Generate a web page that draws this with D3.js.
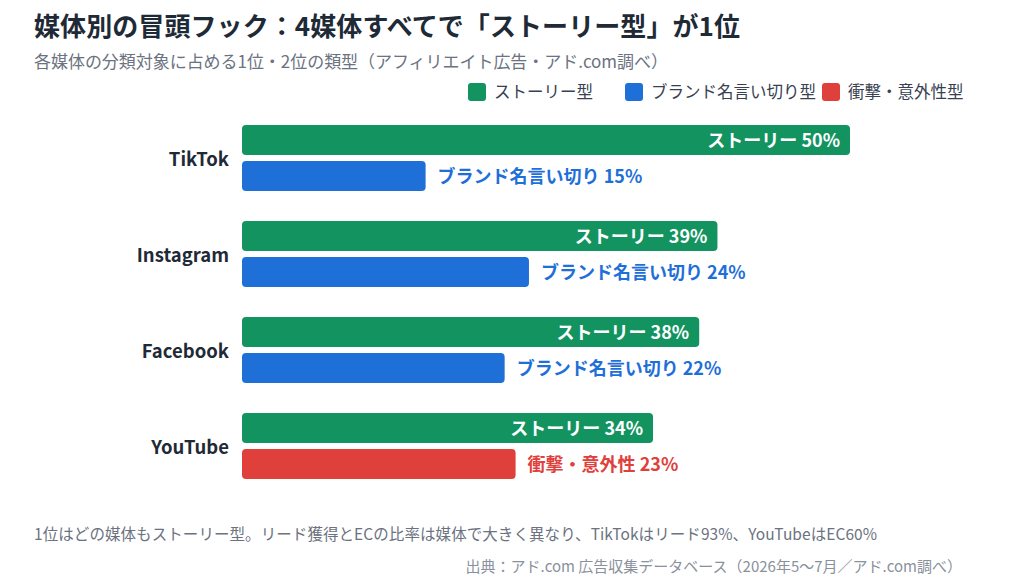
<!DOCTYPE html>
<html><head><meta charset="utf-8">
<script src="https://cdn.jsdelivr.net/npm/d3@7"></script>
<style>body{margin:0;background:#fff;font-family:"Noto Sans CJK JP","Noto Sans",sans-serif}</style>
</head><body><svg id="c" width="1024" height="584"></svg>
<script>
const platforms = ["TikTok", "Instagram", "Facebook", "YouTube"];
const firstType = ["ストーリー", "ストーリー", "ストーリー", "ストーリー"];
const firstValue = [50, 39.1, 37.6, 33.8];
const secondType = ["ブランド名言い切り", "ブランド名言い切り", "ブランド名言い切り", "衝撃・意外性"];
const secondValue = [15.1, 23.6, 21.6, 22.5];
const legendLabels = ["ストーリー型", "ブランド名言い切り型", "衝撃・意外性型"];

const colors = {"ストーリー": "#12935f", "ブランド名言い切り": "#1f6fd8", "衝撃・意外性": "#e0403b"};
const legendColors = ["#12935f", "#1f6fd8", "#e0403b"];

const svg = d3.select("#c");
const font = '"Noto Sans CJK JP", sans-serif';

svg.append("text").attr("x", 34).attr("y", 36).attr("font-size", 26).attr("font-weight", 700)
  .attr("fill", "#1f2a37").attr("font-family", font).attr("textLength", 706).text("媒体別の冒頭フック：4媒体すべてで「ストーリー型」が1位");
svg.append("text").attr("x", 34).attr("y", 68).attr("font-size", 17).attr("fill", "#6b7280")
  .attr("font-family", font).attr("textLength", 634).text("各媒体の分類対象に占める1位・2位の類型（アフィリエイト広告・アド.com調べ）");

// legend
const lx = [468, 625, 822];
legendLabels.forEach((l, i) => {
  svg.append("rect").attr("x", lx[i]).attr("y", 83).attr("width", 18).attr("height", 18).attr("rx", 3).attr("fill", legendColors[i]);
  svg.append("text").attr("x", lx[i] + 26).attr("y", 98).attr("font-size", 16.5).attr("fill", "#374151")
    .attr("font-family", font).text(l);
});

const x = d3.scaleLinear().domain([0, 50]).range([242, 850]);
const y = d3.scaleBand().domain(platforms).range([120, 504]);
const bh = 30;

platforms.forEach((p, i) => {
  const y0 = y(p) + 5;
  svg.append("text").attr("x", 229).attr("y", y0 + bh + 11).attr("text-anchor", "end").attr("font-size", 18.5)
    .attr("font-weight", 700).attr("fill", "#1f2a37").attr("font-family", font).text(p);
  svg.append("rect").attr("x", x(0)).attr("y", y0).attr("width", x(firstValue[i]) - x(0)).attr("height", bh)
    .attr("rx", 4).attr("fill", colors[firstType[i]]);
  svg.append("text").attr("x", x(firstValue[i]) - 10).attr("y", y0 + 22).attr("text-anchor", "end")
    .attr("font-size", 18).attr("font-weight", 700).attr("fill", "#fff").attr("font-family", font)
    .text(firstType[i] + " " + Math.round(firstValue[i]) + "%");
  const y1 = y0 + 36;
  const c = colors[secondType[i]];
  svg.append("rect").attr("x", x(0)).attr("y", y1).attr("width", x(secondValue[i]) - x(0)).attr("height", bh)
    .attr("rx", 4).attr("fill", c);
  svg.append("text").attr("x", x(secondValue[i]) + 12).attr("y", y1 + 22)
    .attr("font-size", 18).attr("font-weight", 700).attr("fill", c).attr("font-family", font)
    .text(secondType[i] + " " + Math.round(secondValue[i]) + "%");
});

svg.append("text").attr("x", 34).attr("y", 540).attr("font-size", 15.5).attr("fill", "#6b7280").attr("font-family", font)
  .attr("textLength", 843).text("1位はどの媒体もストーリー型。リード獲得とECの比率は媒体で大きく異なり、TikTokはリード93%、YouTubeはEC60%");
svg.append("text").attr("x", 962).attr("y", 572).attr("text-anchor", "end").attr("font-size", 15).attr("fill", "#8a919c")
  .attr("font-family", font).text("出典：アド.com 広告収集データベース（2026年5〜7月／アド.com調べ）");
</script></body></html>
